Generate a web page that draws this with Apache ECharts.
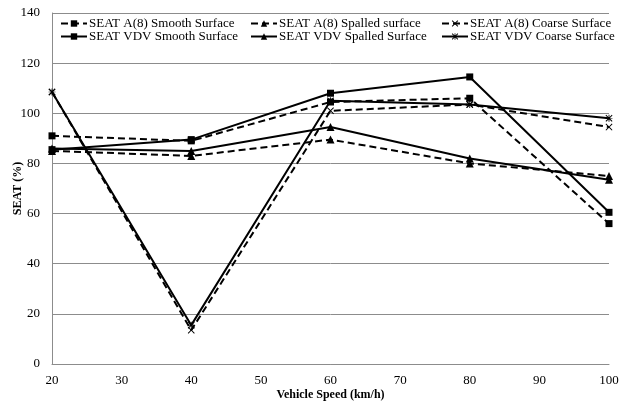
<!DOCTYPE html>
<html>
<head>
<meta charset="utf-8">
<script src="https://cdn.jsdelivr.net/npm/echarts@6/dist/echarts.min.js"></script>
<style>
  html, body { margin: 0; padding: 0; background: #fff; }
  #main { width: 628px; height: 406px; }
</style>
</head>
<body>
<div id="main"></div>
<script>
var speeds = [20, 40, 60, 80, 100];
var a8Smooth = [91, 89, 104.5, 106, 56];
var a8Spalled = [85, 83, 89.5, 80, 75];
var a8Coarse = [108.5, 13.5, 101, 103.5, 94.5];
var vdvSmooth = [85.5, 89.5, 108, 114.5, 60.5];
var vdvSpalled = [86, 85, 94.5, 82, 73.5];
var vdvCoarse = [108.5, 15.5, 105, 103.5, 98];

var xMark = 'path://M0,1L1,0L5,4L9,0L10,1L6,5L10,9L9,10L5,6L1,10L0,9L4,5Z';
var starMark = 'path://M0,1L1,0L4.4,3.4L4.4,0L5.6,0L5.6,3.4L9,0L10,1L6.4,4.6L10,4.6L10,5.4L6.4,5.4L10,9L9,10L5.6,6.6L5.6,10L4.4,10L4.4,6.6L1,10L0,9L3.6,5.4L0,5.4L0,4.6L3.6,4.6Z';

var font = '"Liberation Serif", "Times New Roman", serif';

function pairs(vals) {
    return speeds.map(function (s, i) { return [s, vals[i]]; });
}

function mkSeries(name, vals, symbol, dashed) {
    return {
        name: name,
        type: 'line',
        data: pairs(vals),
        symbol: symbol,
        symbolSize: symbol === 'triangle' ? 8 : 7,
        showSymbol: true,
        lineStyle: { color: '#000', width: 2, type: dashed ? [7, 4] : 'solid' },
        itemStyle: { color: '#000' },
        emphasis: { disabled: true },
        animation: false
    };
}

var chart = echarts.init(document.getElementById('main'));

function legendCol(left, names) {
    return {
        orient: 'vertical',
        left: left,
        top: 17,
        itemGap: 0,
        itemWidth: 26,
        itemHeight: 8,
        padding: 0,
        data: names,
        textStyle: { fontFamily: font, fontSize: 13, color: '#000', padding: [0, 0, 0, -3] }
    };
}

var option = {
    backgroundColor: '#fff',
    animation: false,
    grid: { left: 52, right: 19, top: 13, bottom: 42, containLabel: false, outerBoundsMode: 'none' },
    legend: [
        legendCol(60, ['SEAT A(8) Smooth Surface', 'SEAT VDV Smooth Surface']),
        legendCol(250, ['SEAT A(8) Spalled surface', 'SEAT VDV Spalled Surface']),
        legendCol(441, ['SEAT A(8) Coarse Surface', 'SEAT VDV Coarse Surface'])
    ],
    xAxis: {
        type: 'value',
        min: 20,
        max: 100,
        interval: 10,
        name: 'Vehicle Speed (km/h)',
        nameLocation: 'middle',
        nameGap: 25,
        nameMoveOverlap: false,
        nameTextStyle: { fontFamily: font, fontSize: 12, fontWeight: 'bold', color: '#000' },
        axisLine: { show: true, lineStyle: { color: '#8c8c8c', width: 1 } },
        axisTick: { show: false },
        splitLine: { show: false },
        axisLabel: { fontFamily: font, fontSize: 13, color: '#000', margin: 10 }
    },
    yAxis: {
        type: 'value',
        min: 0,
        max: 140,
        interval: 20,
        name: 'SEAT (%)',
        nameLocation: 'middle',
        nameGap: 28,
        nameMoveOverlap: false,
        nameTextStyle: { fontFamily: font, fontSize: 12, fontWeight: 'bold', color: '#000' },
        axisLine: { show: true, lineStyle: { color: '#8c8c8c', width: 1 } },
        axisTick: { show: false },
        splitLine: { lineStyle: { color: '#8c8c8c', width: 1 } },
        axisLabel: { fontFamily: font, fontSize: 13, color: '#000', margin: 12 }
    },
    series: [
        mkSeries('SEAT A(8) Smooth Surface', a8Smooth, 'rect', true),
        mkSeries('SEAT A(8) Spalled surface', a8Spalled, 'triangle', true),
        mkSeries('SEAT A(8) Coarse Surface', a8Coarse, xMark, true),
        mkSeries('SEAT VDV Smooth Surface', vdvSmooth, 'rect', false),
        mkSeries('SEAT VDV Spalled Surface', vdvSpalled, 'triangle', false),
        mkSeries('SEAT VDV Coarse Surface', vdvCoarse, starMark, false)
    ]
};

chart.setOption(option);
</script>
</body>
</html>
